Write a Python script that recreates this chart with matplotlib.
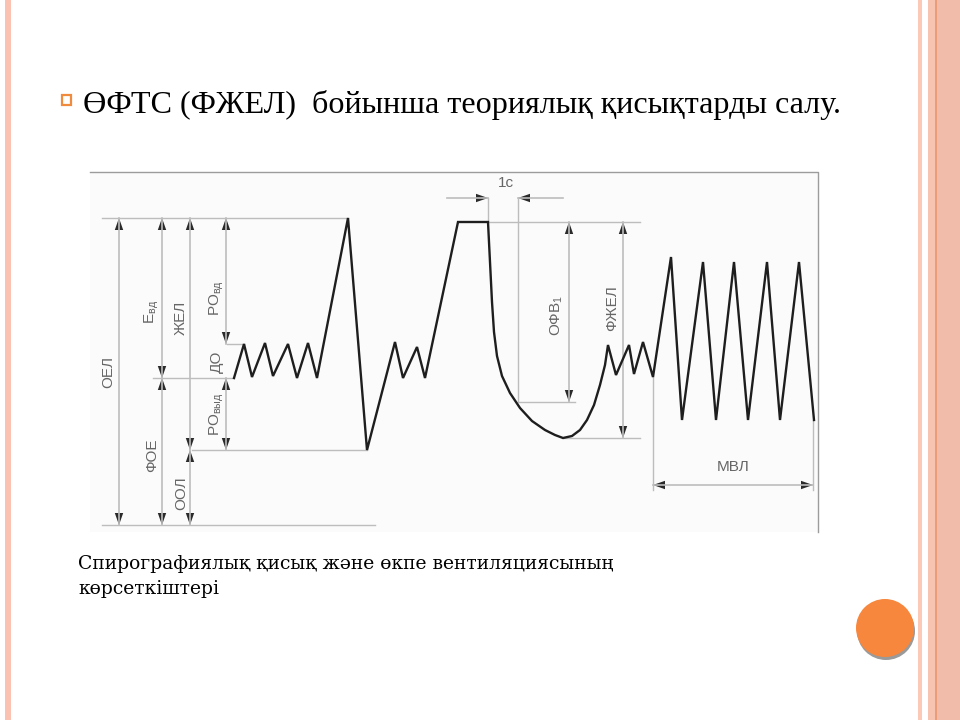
import matplotlib
matplotlib.use('Agg')
import matplotlib.pyplot as plt
from matplotlib.patches import Polygon, Rectangle, Ellipse

plt.rcParams['font.family'] = ['Liberation Sans', 'DejaVu Sans']

# slide texts
title = 'ӨФТС (ФЖЕЛ)  бойынша теориялық қисықтарды салу.'
caption_lines = ['Спирографиялық қисық жəне өкпе вентиляциясының', 'көрсеткіштері']

# spirogram trace (slide pixel coordinates, y grows downward)
trace_x = [234, 244, 252, 265, 273, 288, 297, 308, 317, 348, 367, 395, 403, 417, 425,
           458, 488, 490, 492, 494, 497, 502, 510, 520, 532, 545, 555, 563, 572, 580,
           587, 594, 600, 605, 608, 616, 629, 634,
           643, 653, 671, 682, 703, 716, 734, 748, 767, 780, 799, 814]
trace_y = [378, 344, 377, 343, 376, 344, 378, 343, 378, 218, 450, 342, 378, 347, 378,
           222, 222, 262, 302, 332, 356, 376, 393, 408, 421, 430, 435, 438, 436, 430,
           420, 405, 385, 365, 345, 375, 345, 374,
           342, 377, 257, 420, 262, 420, 262, 420, 262, 420, 262, 420]

# level lines: (y, x_start, x_end)
levels = [(218, 102, 348), (378, 153, 234), (344, 227, 244), (450, 192, 367),
          (525, 102, 375), (222, 488, 640), (402, 518, 575), (438, 563, 640)]
# guide verticals: (x, y_start, y_end)
guides = [(488, 198, 222), (518, 198, 402), (653, 377, 490), (813, 420, 490)]

# vertical double arrows: (x, y_top, y_bottom)
v_arrows = [(119, 218, 525), (162, 218, 378), (162, 378, 525), (190, 218, 450),
            (190, 450, 525), (226, 218, 344), (226, 378, 450), (569, 222, 402),
            (623, 222, 438)]
# horizontal double arrow for МВЛ
mvl_arrow = (485, 653, 813)
# single arrows for 1с: (y, x_tail, x_head)
tc_arrows = [(198, 447, 488), (198, 563, 518)]

# rotated labels: (text, x, y)
v_labels = [('ОЕЛ', 108, 372), ('E$_{\\mathregular{вд}}$', 152, 312),
            ('ЖЕЛ', 181, 318), ('РО$_{\\mathregular{вд}}$', 217, 298),
            ('ДО', 217, 362), ('РО$_{\\mathregular{выд}}$', 217, 414),
            ('ФОЕ', 152, 455), ('ООЛ', 181, 493),
            ('ОФВ$_{\\mathregular{1}}$', 557, 315), ('ФЖЕЛ', 612, 308)]
h_labels = [('1с', 506, 183), ('МВЛ', 733, 467)]

fig = plt.figure(figsize=(9.6, 7.2), dpi=100)
ax = fig.add_axes([0, 0, 1, 1])
ax.set_xlim(0, 960)
ax.set_ylim(720, 0)
ax.axis('off')

# slide decorations
ax.add_patch(Rectangle((5, 0), 6, 720, color='#fbc1b1', lw=0))
ax.add_patch(Rectangle((918, 0), 4, 720, color='#fcc9b6', lw=0))
ax.add_patch(Rectangle((928, 0), 32, 720, color='#f2bcaa', lw=0))
ax.add_patch(Rectangle((928, 0), 7, 720, color='#f6c4b1', lw=0))
ax.add_patch(Rectangle((935, 0), 2, 720, color='#eb9c78', lw=0))
ax.add_patch(Ellipse((886, 631), 58, 58, color='#9a9a9a', lw=0))
ax.add_patch(Ellipse((885, 628), 58, 58, color='#f7873c', lw=0))

# bullet and title
ax.add_patch(Rectangle((62, 95), 9, 10, fill=False, ec='#f08a3c', lw=1.6))
ax.text(83, 113, title, fontsize=23.1, family=['Liberation Serif', 'DejaVu Serif'],
        color='black', ha='left', va='baseline')

# scanned picture background
ax.add_patch(Rectangle((90, 172), 728, 360, color='#fbfbfb', lw=0))
ax.plot([90, 818, 818], [172, 172, 532], color='#9c9c9c', lw=1)

guide_col = '#bdbdbd'
for y, x0, x1 in levels:
    ax.plot([x0, x1], [y, y], color=guide_col, lw=1)
for x, y0, y1 in guides:
    ax.plot([x, x], [y0, y1], color=guide_col, lw=1)


def head(tip, direction, length=12, half=4.2):
    tx, ty = tip
    dx, dy = direction
    bx, by = tx - dx * length, ty - dy * length
    px, py = -dy * half, dx * half
    ax.add_patch(Polygon([(tx, ty), (bx + px, by + py), (bx - px, by - py)],
                         closed=True, color='#2a2a2a', lw=0))


for x, y0, y1 in v_arrows:
    ax.plot([x, x], [y0, y1], color=guide_col, lw=1.2)
    head((x, y0), (0, -1))
    head((x, y1), (0, 1))

y, x0, x1 = mvl_arrow
ax.plot([x0, x1], [y, y], color=guide_col, lw=1.2)
head((x0, y), (-1, 0))
head((x1, y), (1, 0))

for y, xt, xh in tc_arrows:
    ax.plot([xt, xh], [y, y], color=guide_col, lw=1.2)
    head((xh, y), (1 if xh > xt else -1, 0))

ax.plot(trace_x, trace_y, color='#1e1e1e', lw=1.7, solid_joinstyle='miter')

for txt, x, y in v_labels:
    ax.text(x, y, txt, rotation=90, fontsize=11, color='#666666',
            ha='center', va='center')
for txt, x, y in h_labels:
    ax.text(x, y, txt, fontsize=11, color='#666666', ha='center', va='center')

# caption
for i, line in enumerate(caption_lines):
    ax.text(78, 569 + i * 25, line, fontsize=13.5,
            family=['DejaVu Serif', 'Liberation Serif'], color='black',
            ha='left', va='baseline')

fig.savefig('out.png', dpi=100)
